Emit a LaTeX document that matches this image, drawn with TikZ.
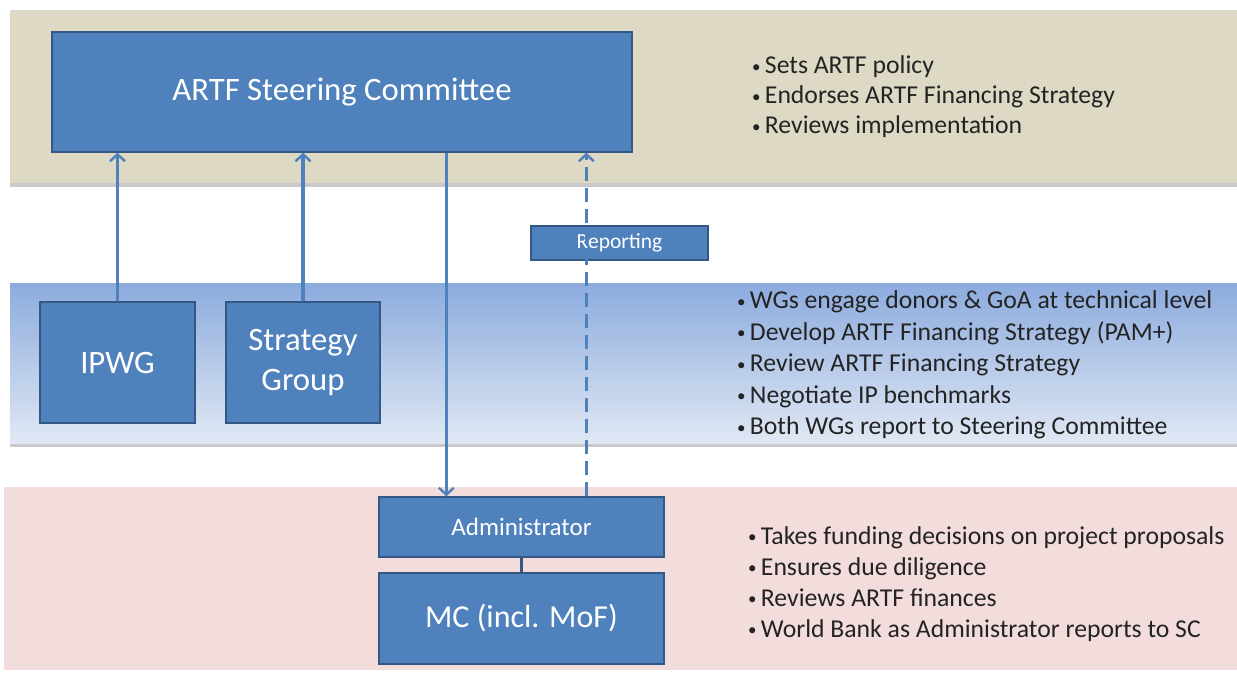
\documentclass[tikz,border=0pt]{standalone}
\usepackage{fontspec}
\setmainfont{Carlito}
\usetikzlibrary{arrows.meta,shadows}
\definecolor{artfblue}{RGB}{79,129,189}
\definecolor{artfedge}{RGB}{52,88,132}
\definecolor{artfsand}{RGB}{221,217,196}
\definecolor{artfsky}{RGB}{140,171,221}
\definecolor{artfmist}{RGB}{224,232,244}
\definecolor{artfrose}{RGB}{242,221,220}
\definecolor{artfink}{RGB}{35,35,35}
\newcommand{\bul}{\raisebox{1.5pt}{\fontsize{17}{17}\selectfont•}\,}

\tikzset{
  band/.style={drop shadow={shadow xshift=0pt,shadow yshift=-4pt,opacity=0.35,fill=black!60}},
  unit/.style={draw=artfedge,line width=1.3pt,fill=artfblue,text=white,align=center,inner sep=0pt},
  link/.style={artfblue,line width=3.2pt,-{Straight Barb[length=7pt,width=15pt,line width=2.4pt]}},
  notes/.style={anchor=west,align=left,text=artfink,inner sep=0pt,font=\fontsize{25.7}{31}\selectfont}
}

\begin{document}
\begin{tikzpicture}[x=1pt,y=-1pt]
  \useasboundingbox[fill=white] (0,0) rectangle (1237,681);
  % the three levels
  \path[band,fill=artfsand] (10,10) rectangle (1240,183);
  \path[band,top color=artfsky,bottom color=artfmist] (10,283) rectangle (1240,443);
  \fill[artfrose] (4,487) rectangle (1240,670);

  \node[unit,minimum width=580,minimum height=120,font=\fontsize{32.7}{36}\selectfont] (sc) at (342,92) {ARTF Steering Committee};
  \node[unit,minimum width=155,minimum height=121,font=\fontsize{32.7}{36}\selectfont] (ipwg) at (117.5,362.5) {IPWG};
  \node[unit,minimum width=154,minimum height=121,font=\fontsize{32.7}{40}\selectfont] (sg) at (303,362.5) {Strategy\\Group};
  \node[unit,minimum width=177,minimum height=34,font=\fontsize{21.5}{24}\selectfont] (rep) at (619.5,243) {Reporting};
  \node[unit,minimum width=285,minimum height=60,font=\fontsize{25}{28}\selectfont] (admin) at (521.5,527) {Administrator};
  \node[unit,minimum width=285,minimum height=91,font=\fontsize{32}{36}\selectfont] (mc) at (521.5,618.5) {MC (incl. MoF)};

  \draw[link] (ipwg.north) -- (ipwg.north |- sc.south);
  \draw[link] (sg.north) -- (sg.north |- sc.south);
  \draw[link] ([xshift=68pt]admin.north west |- sc.south) -- ([xshift=68pt]admin.north west);
  \draw[link,dash pattern=on 14pt off 7pt] ([xshift=208pt]admin.north west) -- ([xshift=208pt]admin.north west |- sc.south);
  \draw[artfedge,line width=3pt] (admin.south) -- (mc.north);

  \node[notes,font=\fontsize{25.7}{30}\selectfont] (topnotes) at (752,97) {%
    \bul Sets ARTF policy\\
    \bul Endorses ARTF Financing Strategy\\
    \bul Reviews implementation};
  \node[notes,font=\fontsize{25.7}{31.5}\selectfont] (midnotes) at (737,365) {%
    \bul WGs engage donors \& GoA at technical level\\
    \bul Develop ARTF Financing Strategy (PAM+)\\
    \bul Review ARTF Financing Strategy\\
    \bul Negotiate IP benchmarks\\
    \bul Both WGs report to Steering Committee};
  \node[notes] (lownotes) at (748,584) {%
    \bul Takes funding decisions on project proposals\\
    \bul Ensures due diligence\\
    \bul Reviews ARTF finances\\
    \bul World Bank as Administrator reports to SC};
\end{tikzpicture}
\end{document}
